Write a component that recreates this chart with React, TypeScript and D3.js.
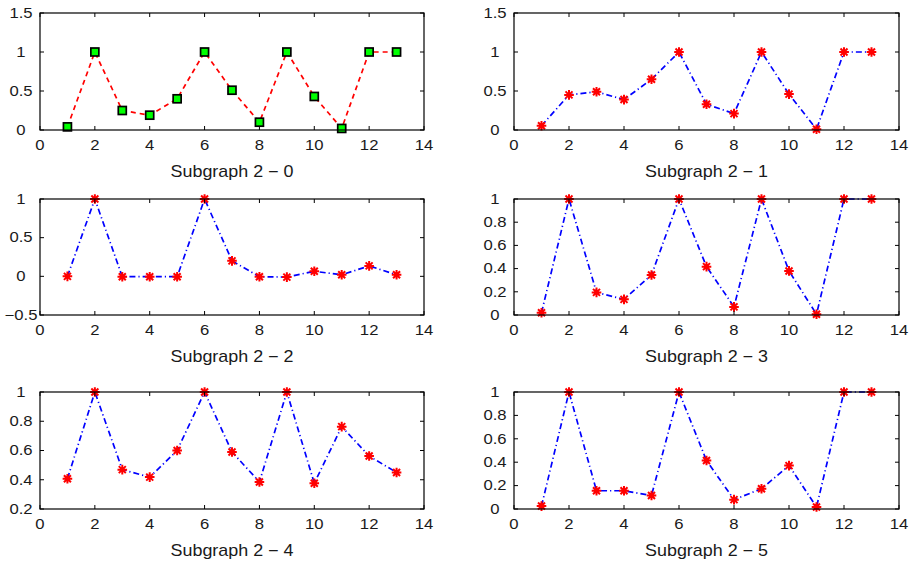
import React from "react";
import * as d3 from "d3";

const xValues = [1, 2, 3, 4, 5, 6, 7, 8, 9, 10, 11, 12, 13];
const xTicks = [0, 2, 4, 6, 8, 10, 12, 14];

const series0 = [0.04, 1, 0.25, 0.19, 0.4, 1, 0.51, 0.1, 1, 0.43, 0.02, 1, 1];
const series1 = [0.055, 0.45, 0.49, 0.39, 0.65, 1, 0.33, 0.21, 1, 0.46, 0.01, 1, 1];
const series2 = [0, 1, -0.005, -0.005, -0.005, 1, 0.2, -0.005, -0.01, 0.065, 0.02, 0.135, 0.02];
const series3 = [0.02, 1, 0.195, 0.135, 0.345, 1, 0.417, 0.07, 1, 0.38, 0.006, 1, 1];
const series4 = [0.407, 1, 0.469, 0.418, 0.6, 1, 0.59, 0.385, 1, 0.376, 0.763, 0.562, 0.45];
const series5 = [0.025, 1, 0.156, 0.156, 0.116, 1, 0.414, 0.08, 0.173, 0.371, 0.017, 1, 1];

const titles = [
  "Subgraph 2 \u2212 0",
  "Subgraph 2 \u2212 1",
  "Subgraph 2 \u2212 2",
  "Subgraph 2 \u2212 3",
  "Subgraph 2 \u2212 4",
  "Subgraph 2 \u2212 5",
];

const yTicksA = [0, 0.5, 1, 1.5];
const yTicksB = [-0.5, 0, 0.5, 1];
const yTicksC = [0, 0.2, 0.4, 0.6, 0.8, 1];
const yTicksD = [0.2, 0.4, 0.6, 0.8, 1];

const panels = [
  { data: series0, ticks: yTicksA, style: "square" },
  { data: series1, ticks: yTicksA, style: "star" },
  { data: series2, ticks: yTicksB, style: "star" },
  { data: series3, ticks: yTicksC, style: "star" },
  { data: series4, ticks: yTicksD, style: "star" },
  { data: series5, ticks: yTicksC, style: "star" },
];

// pixel boxes of each axes [left, right, top, bottom]
const boxes = [
  [40, 424, 13, 130],
  [514, 899, 13, 130],
  [40, 424, 199, 315],
  [514, 899, 199, 315],
  [40, 424, 392, 509],
  [514, 899, 392, 509],
];

const FONT = "'Liberation Sans', Arial, Helvetica, sans-serif";

const fmt = (v: number) => {
  const s = String(Math.round(v * 10) / 10);
  return s.replace("-", "\u2212");
};

// text is a little wider than tall in the reference, so stretch it sideways
function Txt({ x, y, size, anchor, stretch, children }: any) {
  return (
    <text
      transform={`translate(${x},${y}) scale(${stretch},1)`}
      fontSize={size}
      fontFamily={FONT}
      textAnchor={anchor}
      fill="#1a1a1a"
    >
      {children}
    </text>
  );
}

function Panel({ idx }: { idx: number }) {
  const p = panels[idx];
  const [l, r, t, b] = boxes[idx];
  const x = d3.scaleLinear().domain([0, 14]).range([l, r]);
  const y = d3
    .scaleLinear()
    .domain([p.ticks[0], p.ticks[p.ticks.length - 1]])
    .range([b, t]);
  const pts = xValues.map((xv, i) => [xv, p.data[i]] as [number, number]);
  const line = d3
    .line<[number, number]>()
    .x((d) => x(d[0]))
    .y((d) => y(d[1]));
  const isSq = p.style === "square";
  const tl = 4;

  return (
    <g>
      <path
        d={line(pts) || ""}
        fill="none"
        stroke={isSq ? "#ff0000" : "#0000ff"}
        strokeWidth={1.7}
        strokeDasharray={isSq ? "5,4" : "6,3,1.2,3"}
      />
      {pts.map((d, i) => {
        const cx = x(d[0]);
        const cy = y(d[1]);
        if (isSq) {
          return (
            <rect
              key={i}
              x={cx - 4}
              y={cy - 4}
              width={8}
              height={8}
              fill="#00ff00"
              stroke="#000"
              strokeWidth={1.7}
            />
          );
        }
        const s = 4.8;
        const dg = 3.5;
        return (
          <path
            key={i}
            d={`M${cx - s},${cy}L${cx + s},${cy}M${cx},${cy - s}L${cx},${cy + s}M${cx - dg},${cy - dg}L${cx + dg},${cy + dg}M${cx - dg},${cy + dg}L${cx + dg},${cy - dg}`}
            stroke="#ff0000"
            strokeWidth={2}
            fill="none"
          />
        );
      })}
      <rect x={l} y={t} width={r - l} height={b - t} fill="none" stroke="#000" strokeWidth={1.2} />
      {xTicks.map((v) => (
        <g key={"x" + v}>
          <line x1={x(v)} x2={x(v)} y1={b} y2={b - tl} stroke="#000" />
          <line x1={x(v)} x2={x(v)} y1={t} y2={t + tl} stroke="#000" />
          <Txt x={x(v)} y={b + 20} size={14.5} anchor="middle" stretch={1.15}>
            {v}
          </Txt>
        </g>
      ))}
      {p.ticks.map((v) => (
        <g key={"y" + v}>
          <line x1={l} x2={l + tl} y1={y(v)} y2={y(v)} stroke="#000" />
          <line x1={r} x2={r - tl} y1={y(v)} y2={y(v)} stroke="#000" />
          <Txt x={l - 19} y={y(v) + 4.8} size={14.5} anchor="middle" stretch={1.15}>
            {fmt(v)}
          </Txt>
        </g>
      ))}
      <Txt x={(l + r) / 2} y={b + 47} size={16} anchor="middle" stretch={1.12}>
        {titles[idx]}
      </Txt>
    </g>
  );
}

export default function App() {
  return (
    <svg
      width={914}
      height={566}
      style={{ position: "absolute", left: 0, top: 0, background: "#fff" }}
    >
      <rect width={914} height={566} fill="#fff" />
      {panels.map((_, i) => (
        <Panel key={i} idx={i} />
      ))}
    </svg>
  );
}
